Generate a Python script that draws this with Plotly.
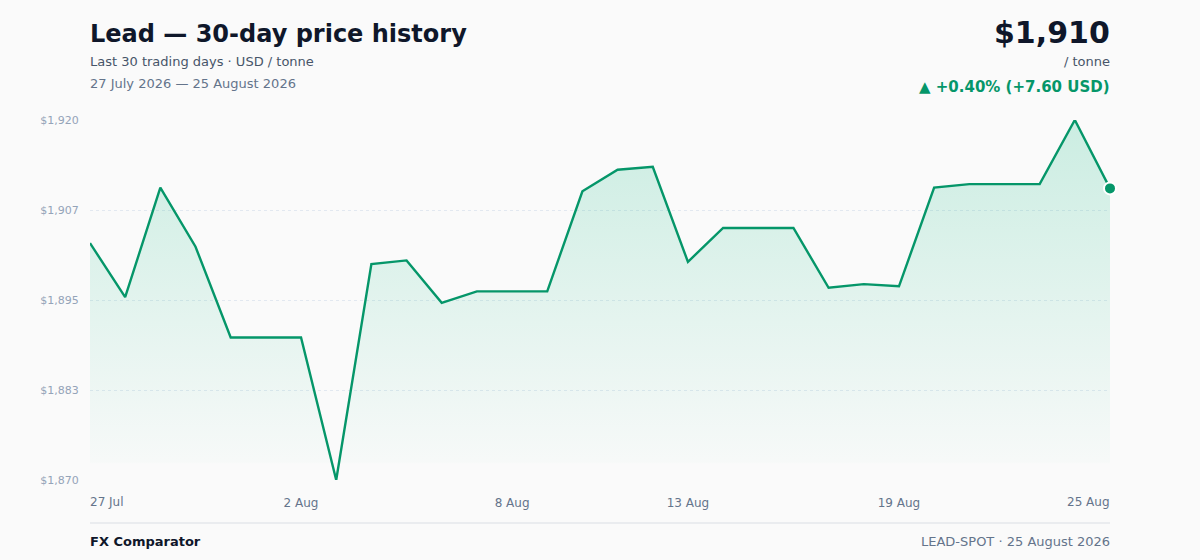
import pandas as pd
import plotly.graph_objects as go

# 30 consecutive days, 27 Jul -> 25 Aug 2026
dates = pd.date_range("2026-07-27", "2026-08-25", freq="D")
prices = [
    1902.9, 1895.4, 1910.6, 1902.4, 1889.8, 1889.8, 1889.8, 1870.0, 1900.0, 1900.5,
    1894.6, 1896.2, 1896.2, 1896.2, 1910.1, 1913.1, 1913.5, 1900.3, 1905.0, 1905.0,
    1905.0, 1896.7, 1897.2, 1896.9, 1910.6, 1911.1, 1911.1, 1911.1, 1920.0, 1910.5,
]
x_tick_idx = [0, 6, 12, 17, 23, 29]
x_tick_text = ["27 Jul", "2 Aug", "8 Aug", "13 Aug", "19 Aug", "25 Aug"]
y_tick_vals = [1870, 1882.5, 1895, 1907.5, 1920]
y_tick_text = ["$1,870", "$1,883", "$1,895", "$1,907", "$1,920"]

GREEN = "#059669"
FONT = "DejaVu Sans"

y_min, y_max = min(prices), max(prices)
last, first = prices[-1], prices[0]
chg = last - first
pct = chg / first * 100

fig = go.Figure()
# baseline so the gradient fill spans only the visible range
fig.add_trace(go.Scatter(
    x=dates, y=[y_min] * len(dates), mode="lines",
    line=dict(width=0), hoverinfo="skip", showlegend=False,
))
fig.add_trace(go.Scatter(
    x=dates, y=prices, mode="lines",
    line=dict(color=GREEN, width=2.4),
    fill="tonexty",
    fillgradient=dict(
        type="vertical",
        colorscale=[
            [0, "rgba(16,185,129,0)"],
            [0.045, "rgba(16,185,129,0)"],
            [0.05, "rgba(16,185,129,0.015)"],
            [1, "rgba(16,185,129,0.2)"],
        ],
    ),
    showlegend=False,
))
fig.add_trace(go.Scatter(
    x=[dates[-1]], y=[last], mode="markers",
    marker=dict(color=GREEN, size=12, line=dict(color="white", width=2)),
    showlegend=False, cliponaxis=False,
))

mid = x_tick_idx[1:-1]
fig.update_xaxes(
    range=[dates[0], dates[-1]],
    tickvals=[dates[i] for i in mid],
    ticktext=x_tick_text[1:-1],
    ticks="outside", ticklen=12, tickcolor="rgba(0,0,0,0)",
    tickfont=dict(family=FONT, size=12, color="#64748b"),
    showgrid=False, zeroline=False, showline=False,
)
fig.update_yaxes(
    range=[y_min, y_max],
    tickvals=y_tick_vals, ticktext=y_tick_text,
    ticks="outside", ticklen=8, tickcolor="rgba(0,0,0,0)",
    tickfont=dict(family=FONT, size=11, color="#94a3b8"),
    showgrid=True, gridcolor="#e2e8f0", griddash="dot", gridwidth=1,
    zeroline=False, showline=False,
)

ann = []
# end x tick labels, anchored inward
for i, anchor, dx in ((x_tick_idx[0], "left", -2), (x_tick_idx[-1], "right", 2)):
    ann.append(dict(
        x=dates[i], y=0, xref="x", yref="paper", yshift=-22, xshift=dx,
        text=x_tick_text[x_tick_idx.index(i)], showarrow=False,
        xanchor=anchor, yanchor="middle",
        font=dict(family=FONT, size=12, color="#64748b"),
    ))

def txt(text, x, y, anchor, size, color, bold=False):
    if bold:
        text = f"<b>{text}</b>"
    ann.append(dict(
        text=text, x=x, y=y, xref="paper", yref="paper",
        xanchor=anchor, yanchor="middle", showarrow=False,
        xshift=-2 if anchor == "left" else 2,
        font=dict(family=FONT, size=size, color=color),
    ))

def py(px_y):
    # pixel row in the 560 page -> paper coordinate (plot area 120..480)
    return (480 - px_y) / 360

txt("Lead — 30-day price history", 0, py(34), "left", 24, "#0f172a", True)
txt("Last 30 trading days · USD / tonne", 0, py(62), "left", 13, "#475569")
txt("27 July 2026 — 25 August 2026", 0, py(84), "left", 13, "#64748b")
txt(f"${last:,.0f}", 1, py(32), "right", 30, "#0f172a", True)
txt("/ tonne", 1, py(62), "right", 13, "#475569")
txt(f"▲ +{pct:.2f}% (+{chg:.2f} USD)", 1, py(87), "right", 15, GREEN, True)
txt("FX Comparator", 0, py(541), "left", 13, "#0f172a", True)
txt("LEAD-SPOT · 25 August 2026", 1, py(541), "right", 13, "#64748b")

fig.update_layout(
    width=1200, height=560,
    margin=dict(l=90, r=90, t=120, b=80),
    paper_bgcolor="#fafafa", plot_bgcolor="#fafafa",
    font=dict(family=FONT),
    annotations=ann,
    shapes=[dict(
        type="line", xref="paper", yref="paper",
        x0=0, x1=1, y0=py(523), y1=py(523),
        line=dict(color="#e5e7eb", width=1.5),
    )],
    hovermode=False,
)

fig.write_html(
    "out.html",
    config={"displayModeBar": False},
    post_script="document.body.style.margin='0';document.body.style.background='#fafafa';",
)
